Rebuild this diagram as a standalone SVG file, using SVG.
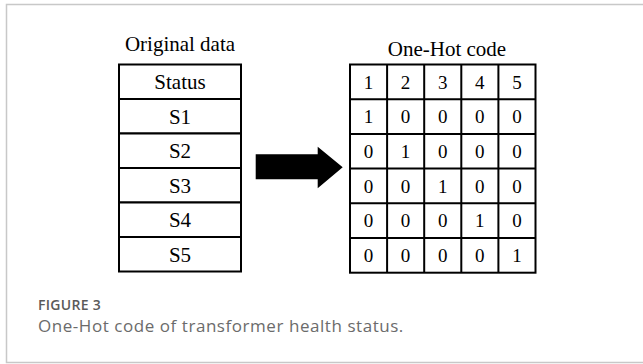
<svg xmlns="http://www.w3.org/2000/svg" width="643" height="364" viewBox="0 0 643 364">
<style>
.t{font-family:"Liberation Serif","Times New Roman",serif;fill:#000;text-anchor:middle}
.h{font-size:21px}
.c{font-size:21px}
.n{font-size:19px}
.cell{fill:#fff;stroke:#000;stroke-width:2}
.frame{fill:none;stroke:#c8c8c8;stroke-width:1.5}
.cap{font-family:"Open Sans","Noto Sans",sans-serif}
</style>
<rect width="643" height="364" fill="#fff"/>
<path class="frame" d="M643 4.5H6.5V362.5H643"/>

<g id="original-data">
<text class="t h" x="180" y="51">Original data</text>
<rect class="cell" x="119" y="64.5" width="122" height="34.5"/>
<rect class="cell" x="119" y="99" width="122" height="34.5"/>
<rect class="cell" x="119" y="133.5" width="122" height="34.5"/>
<rect class="cell" x="119" y="168" width="122" height="34.5"/>
<rect class="cell" x="119" y="202.5" width="122" height="34.5"/>
<rect class="cell" x="119" y="237" width="122" height="34.5"/>
<text class="t c" x="180" y="89">Status</text>
<text class="t c" x="180" y="123.5">S1</text>
<text class="t c" x="180" y="158">S2</text>
<text class="t c" x="180" y="192.5">S3</text>
<text class="t c" x="180" y="227">S4</text>
<text class="t c" x="180" y="261.5">S5</text>
</g>

<g id="connectors">
<polygon points="255.7,154.3 317.7,154.3 317.7,146.7 342.7,167.3 317.7,188.3 317.7,179.3 255.7,179.3" fill="#000"/>
</g>

<g id="one-hot-code">
<text class="t h" x="447" y="55.7">One-Hot code</text>
<rect x="350" y="64.5" width="185.5" height="208.2" fill="#fff" stroke="#000" stroke-width="2"/>
<path d="M387.1 64.5V272.7M424.2 64.5V272.7M461.3 64.5V272.7M498.4 64.5V272.7M350 99.2H535.5M350 133.9H535.5M350 168.6H535.5M350 203.3H535.5M350 238H535.5" stroke="#000" stroke-width="2" fill="none"/>
<g class="t n">
<text x="368.5" y="88.5">1</text><text x="405.6" y="88.5">2</text><text x="442.7" y="88.5">3</text><text x="479.8" y="88.5">4</text><text x="517" y="88.5">5</text>
<text x="368.5" y="123.2">1</text><text x="405.6" y="123.2">0</text><text x="442.7" y="123.2">0</text><text x="479.8" y="123.2">0</text><text x="517" y="123.2">0</text>
<text x="368.5" y="157.9">0</text><text x="405.6" y="157.9">1</text><text x="442.7" y="157.9">0</text><text x="479.8" y="157.9">0</text><text x="517" y="157.9">0</text>
<text x="368.5" y="192.6">0</text><text x="405.6" y="192.6">0</text><text x="442.7" y="192.6">1</text><text x="479.8" y="192.6">0</text><text x="517" y="192.6">0</text>
<text x="368.5" y="227.3">0</text><text x="405.6" y="227.3">0</text><text x="442.7" y="227.3">0</text><text x="479.8" y="227.3">1</text><text x="517" y="227.3">0</text>
<text x="368.5" y="262">0</text><text x="405.6" y="262">0</text><text x="442.7" y="262">0</text><text x="479.8" y="262">0</text><text x="517" y="262">1</text>
</g>
</g>

<g id="caption">
<text class="cap" x="38" y="309.5" font-size="14" font-weight="600" letter-spacing="0.3" fill="#5a5a5a">FIGURE 3</text>
<text class="cap" x="38" y="331.5" font-size="17" letter-spacing="0.55" fill="#6b6b6b">One-Hot code of transformer health status.</text>
</g>
</svg>
